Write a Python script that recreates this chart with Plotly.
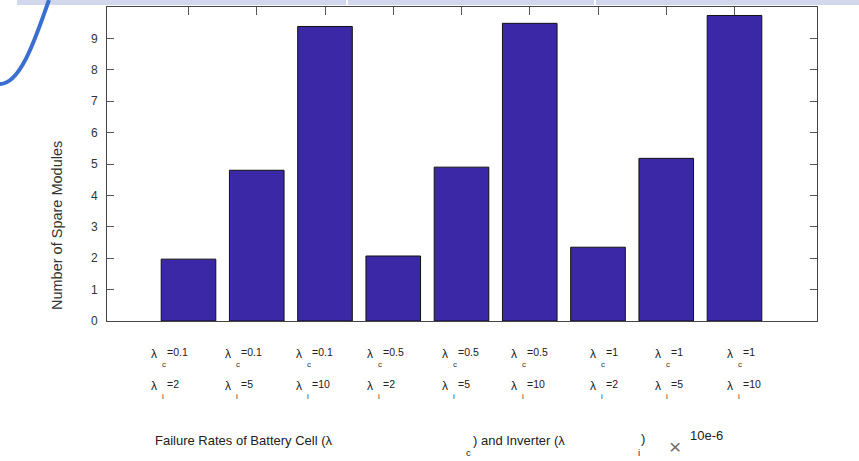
import plotly.graph_objects as go

# Spare-module counts for each combination of cell / inverter failure rate
lambda_c = ["0.1", "0.1", "0.1", "0.5", "0.5", "0.5", "1", "1", "1"]
lambda_i = ["2", "5", "10", "2", "5", "10", "2", "5", "10"]
spare_modules = [1.97, 4.8, 9.38, 2.07, 4.9, 9.48, 2.35, 5.18, 9.73]
y_ticks = [0, 1, 2, 3, 4, 5, 6, 7, 8, 9]

W, H = 859, 461
L, R, T, B = 107, 817, 7, 321  # plot box in pixels

# horizontal nudge (px) of each two-line category label from its bar centre
label_shift = [-39.5, -33.5, -31.5, -28, -22, -20.5, -10, -13, -9.5]

FONT = "Arial, Liberation Sans, sans-serif"
BAR = "#3b28a6"

def px(x):
    return (x - L) / (R - L)

def py(y):
    return (B - y) / (B - T)

cats = list(range(1, len(spare_modules) + 1))

fig = go.Figure(go.Bar(
    x=cats, y=spare_modules, width=0.8,
    marker=dict(color=BAR, line=dict(color="#111111", width=1)),
    hoverinfo="skip",
))

ann = []
# category labels: λ_c=... on the first row, λ_i=... on the second
for k, c, i, s in zip(cats, lambda_c, lambda_i, label_shift):
    for sym, val, dy in (("c", c, 0), ("i", i, 32)):
        ann.append(dict(x=k, xref="x", y=0, yref="paper", xshift=s, yshift=-33 - dy,
                        text="λ", showarrow=False, xanchor="left", yanchor="middle",
                        font=dict(family=FONT, size=12, color="#222")))
        ann.append(dict(x=k, xref="x", y=0, yref="paper", xshift=s + 11, yshift=-43 - dy,
                        text=sym, showarrow=False, xanchor="left", yanchor="middle",
                        font=dict(family=FONT, size=8, color="#333")))
        ann.append(dict(x=k, xref="x", y=0, yref="paper", xshift=s + 16, yshift=-31 - dy,
                        text="=" + val, showarrow=False, xanchor="left", yanchor="middle",
                        font=dict(family=FONT, size=10.5, color="#222")))

# x-axis title pieces
def txt(x, y, t, size=13, color="#222", anchor="left"):
    ann.append(dict(x=px(x), y=py(y), xref="paper", yref="paper", text=t, showarrow=False,
                    xanchor=anchor, yanchor="middle",
                    font=dict(family=FONT, size=size, color=color)))

txt(153, 440, "Failure Rates of Battery Cell (λ")
txt(464, 453, "c", size=9.5)
txt(471, 440, ") and Inverter (λ")
txt(636, 453, "i", size=9.5)
txt(639, 438, ")")
txt(667, 446, "×", size=21, color="#6a6a6a")
txt(688, 435, "10e-6")

# y-axis title
ann.append(dict(x=px(57), y=py(226), xref="paper", yref="paper", text="Number of Spare Modules",
                showarrow=False, textangle=-90, xanchor="center", yanchor="middle",
                font=dict(family=FONT, size=14.5, color="#333")))

shapes = []
# pale header strip along the top edge
for x0, x1 in ((17, 346), (348, 594), (596, 870)):
    shapes.append(dict(type="rect", xref="paper", yref="paper",
                       x0=px(x0), x1=px(x1), y0=py(5), y1=py(-5),
                       fillcolor="#d1d7ed", line=dict(width=0), layer="below"))

# decorative blue arc in the top-left corner
pts = [(0, 84), (22, 84), (38, 30), (49, 0)]
path = "M {},{} C {},{} {},{} {},{}".format(*[v for p in pts for v in (px(p[0]), py(p[1]))])
shapes.append(dict(type="path", xref="paper", yref="paper", path=path,
                   line=dict(color="#3b6fcf", width=4)))

x_lo = 1 + (L - 188.5) / 68.25
x_hi = 1 + (R - 188.5) / 68.25

fig.update_layout(
    width=W, height=H,
    margin=dict(l=L, r=W - R, t=T, b=H - B),
    paper_bgcolor="white", plot_bgcolor="white",
    showlegend=False,
    annotations=ann, shapes=shapes,
    xaxis=dict(range=[x_lo, x_hi], tickvals=cats, showticklabels=False,
               ticks="inside", ticklen=8, tickcolor="#555", showgrid=False, zeroline=False,
               showline=True, linecolor="#444", linewidth=1, mirror="ticks",
               layer="below traces"),
    yaxis=dict(range=[0, 10], tickvals=y_ticks, ticks="inside", ticklen=7, tickcolor="#555",
               showgrid=False, zeroline=False, showline=True, linecolor="#444", linewidth=1,
               mirror="ticks", ticklabelstandoff=6,
               tickfont=dict(family=FONT, size=12, color="#333")),
)

fig.write_html("out.html")
